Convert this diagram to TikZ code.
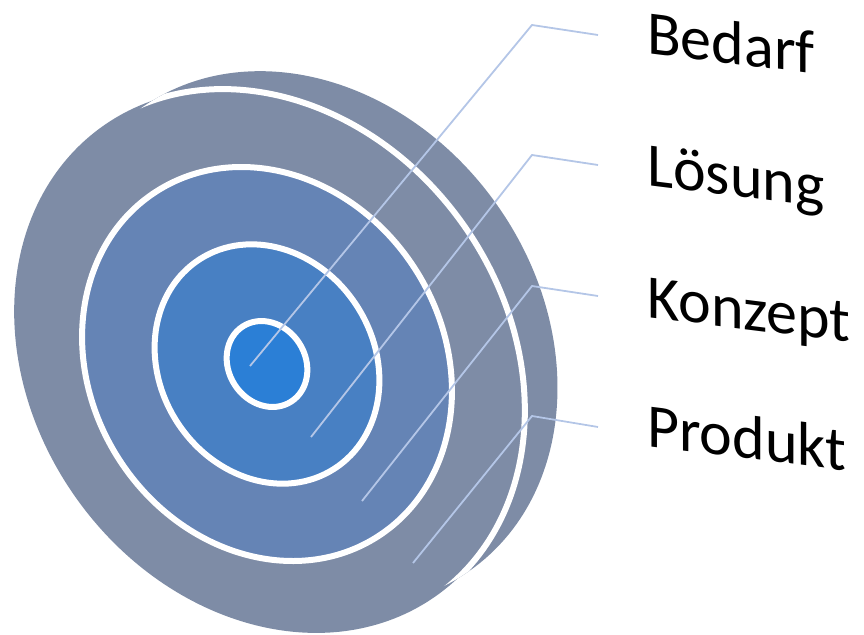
\documentclass[tikz,border=0pt]{standalone}
\usepackage{fontspec}
\setmainfont{Carlito}
\definecolor{ringgray}{HTML}{7E8CA6}
\definecolor{ringmid}{HTML}{6584B5}
\definecolor{ringin}{HTML}{4880C3}
\definecolor{ringcore}{HTML}{2B7FD6}
\definecolor{leadercol}{HTML}{B4C6E7}
\begin{document}
\begin{tikzpicture}[x=1pt,y=-1pt,
  eback/.style={shift={(306,339)},rotate=-54.5},
  efront/.style={shift={(269.5,361)},rotate=-54.5},
  einner/.style={shift={(267,364)},rotate=-57.3},
  ringline/.style={draw=white,line width=6pt},
  leader/.style={draw=leadercol,line width=1.8pt},
  lbl/.style={anchor=base west,inner sep=0pt,font=\fontsize{62}{62}\selectfont,yslant=-0.125}]
\useasboundingbox (0,0) rectangle (864,634);
% back and front faces of outer disc
\fill[ringgray,eback] (0,0) ellipse [x radius=283.7pt,y radius=233.4pt];
\fill[ringgray,efront] (0,0) ellipse [x radius=288pt,y radius=237pt];
\begin{scope}
  \clip[eback] (0,0) ellipse [x radius=283.7pt,y radius=233.4pt];
  \draw[ringline,efront] (0,0) ellipse [x radius=288pt,y radius=237pt];
\end{scope}
% inner rings
\filldraw[fill=ringmid,ringline,einner] (0,0) ellipse [x radius=205pt,y radius=176pt];
\filldraw[fill=ringin,ringline,einner] (0,0) ellipse [x radius=124.5pt,y radius=107pt];
\filldraw[fill=ringcore,ringline,einner] (0,0) ellipse [x radius=44.7pt,y radius=38.4pt];
% labels
\node[lbl] (bedarf) at (647,53) {Bedarf};
\node[lbl] (loesung) at (647,185) {Lösung};
\node[lbl] (konzept) at (647,317) {Konzept};
\node[lbl] (produkt) at (647,446) {Produkt};
% leader coordinates
\coordinate (b0) at (250,366); \coordinate (b1) at (532,25);  \coordinate (b2) at (598,35);
\coordinate (l0) at (311,437); \coordinate (l1) at (532,155); \coordinate (l2) at (598,165);
\coordinate (k0) at (362,501); \coordinate (k1) at (532,286); \coordinate (k2) at (598,296);
\coordinate (p0) at (413,563); \coordinate (p1) at (532,416); \coordinate (p2) at (598,427);
\draw[leader] (b0) -- (b1) -- (b2);
\draw[leader] (l0) -- (l1) -- (l2);
\draw[leader] (k0) -- (k1) -- (k2);
\draw[leader] (p0) -- (p1) -- (p2);
\end{tikzpicture}
\end{document}
